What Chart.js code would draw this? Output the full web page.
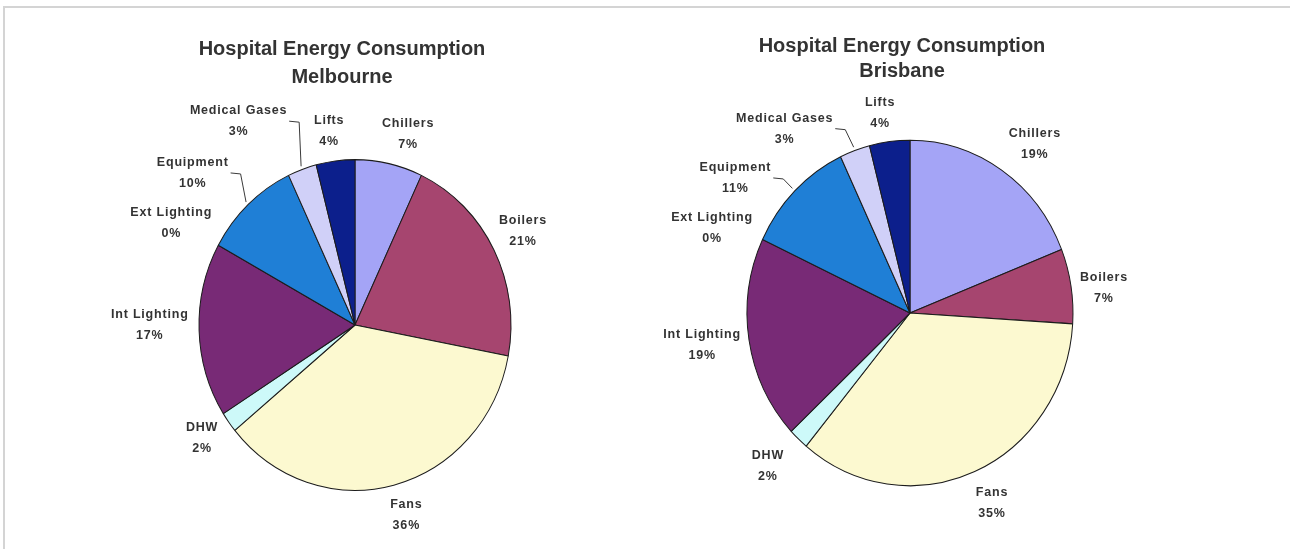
<!DOCTYPE html>
<html>
<head>
<meta charset="utf-8">
<script src="https://cdn.jsdelivr.net/npm/chart.js@4/dist/chart.umd.min.js"></script>
<style>
  html, body { margin: 0; padding: 0; background: #ffffff; }
  #page { position: relative; width: 1290px; height: 549px; overflow: hidden; }
  #frame { position: absolute; left: 3px; top: 6px; right: -6px; bottom: -6px;
           border-top: 2px solid #d4d4d4; border-left: 2px solid #d4d4d4; }
  canvas { position: absolute; top: 0; }
  #melbourne { left: 0; }
  #brisbane { left: 645px; }
</style>
</head>
<body>
<div id="page">
  <div id="frame"></div>
  <canvas id="melbourne" width="645" height="549" style="width:645px;height:549px"></canvas>
  <canvas id="brisbane" width="645" height="549" style="width:645px;height:549px"></canvas>
</div>
<script>
// End uses, clockwise from twelve o'clock
const categories = ['Chillers', 'Boilers', 'Fans', 'DHW', 'Int Lighting',
                    'Ext Lighting', 'Equipment', 'Medical Gases', 'Lifts'];

// Share of total hospital energy use, percent
const melbourneShare = [7, 21, 36, 2, 17, 0, 10, 3, 4];
const brisbaneShare  = [19, 7, 35, 2, 19, 0, 11, 3, 4];

const melbourneTitle = ['Hospital Energy Consumption', 'Melbourne'];
const brisbaneTitle  = ['Hospital Energy Consumption', 'Brisbane'];

const sliceColours = ['#a4a4f6', '#a6456f', '#fcf9d0', '#cdf9f9', '#782a76',
                      '#ff8080', '#1f7fd6', '#d0d0f8', '#0c1f8c'];

const Y_STRETCH = 1.06;      // pies are drawn slightly taller than wide
const LABEL_REACH = 1.22;    // label anchor, as a multiple of the radius
const LABEL_FONT = 'bold 12.5px "Liberation Sans", Arial, sans-serif';
const TITLE_FONT = 'bold 20px "Liberation Sans", Arial, sans-serif';
const TEXT_COLOUR = '#333333';

// Squash the pie into a slight oval around its own centre
const ovalPie = {
  id: 'ovalPie',
  beforeDatasetsDraw(chart) {
    const arc = chart.getDatasetMeta(0).data[0];
    const ctx = chart.ctx;
    ctx.save();
    ctx.translate(arc.x, arc.y);
    ctx.scale(1, Y_STRETCH);
    ctx.translate(-arc.x, -arc.y);
  },
  afterDatasetsDraw(chart) {
    chart.ctx.restore();
  }
};

// Two-line titles plus "name / value%" labels outside each slice
const sliceLabels = {
  id: 'sliceLabels',
  afterDraw(chart, args, opts) {
    const ctx = chart.ctx;
    const meta = chart.getDatasetMeta(0);
    const values = chart.data.datasets[0].data;
    ctx.save();
    ctx.fillStyle = TEXT_COLOUR;
    ctx.strokeStyle = '#3a3a3a';
    ctx.lineWidth = 1;
    ctx.textAlign = 'center';

    ctx.font = TITLE_FONT;
    ctx.textBaseline = 'alphabetic';
    opts.title.forEach((t, k) => ctx.fillText(t, opts.titleX, opts.titleY[k]));

    ctx.font = LABEL_FONT;
    ctx.letterSpacing = '0.8px';
    ctx.textBaseline = 'middle';
    meta.data.forEach((arc, i) => {
      const mid = (arc.startAngle + arc.endAngle) / 2;
      const r = arc.outerRadius;
      const [dx, dy] = opts.nudge[i];
      const x = arc.x + Math.cos(mid) * r * LABEL_REACH + dx;
      const y = arc.y + Math.sin(mid) * r * Y_STRETCH * LABEL_REACH + dy;
      const lines = [chart.data.labels[i], values[i] + '%'];
      ctx.fillText(lines[0], x, y - 10.5);
      ctx.fillText(lines[1], x, y + 10.5);
      if (opts.leader[i]) {
        const half = Math.max(...lines.map(s => ctx.measureText(s).width)) / 2;
        const ex = arc.x + Math.cos(mid) * r * 1.02;
        const ey = arc.y + Math.sin(mid) * r * Y_STRETCH * 1.02;
        ctx.beginPath();
        ctx.moveTo(x + half + 2, y);
        ctx.lineTo(x + half + 12, y + 1);
        ctx.lineTo(ex, ey);
        ctx.stroke();
      }
    });
    ctx.restore();
  }
};

function energyPie(canvasId, share, radius, padding, labelOpts) {
  return new Chart(document.getElementById(canvasId), {
    type: 'pie',
    data: {
      labels: categories,
      datasets: [{
        data: share,
        backgroundColor: sliceColours,
        borderColor: '#1c1c1c',
        borderWidth: 1,
        radius: radius,
        clip: false
      }]
    },
    options: {
      responsive: false,
      animation: false,
      devicePixelRatio: 1,
      layout: { padding: padding },
      plugins: {
        legend: { display: false },
        tooltip: { enabled: false },
        sliceLabels: labelOpts
      }
    },
    plugins: [ovalPie, sliceLabels]
  });
}

energyPie('melbourne', melbourneShare, 156,
  { left: 65, right: 0, top: 101, bottom: 0 },
  {
    title: melbourneTitle, titleX: 342, titleY: [55, 82.5],
    nudge: [[11.5, 6], [-1.6, -2], [4, -5], [1, -6], [-15, -6],
            [-17, -5], [-32, -5], [-52, -14], [-2, 6]],
    leader: [false, false, false, false, false, false, true, true, false]
  });

energyPie('brisbane', brisbaneShare, 163,
  { left: 0, right: 115, top: 77, bottom: 0 },
  {
    title: brisbaneTitle, titleX: 257, titleY: [51.5, 76.5],
    nudge: [[13, 5.5], [-2.5, 8.5], [3, -3], [-6, -1], [-11.5, -1],
            [-18, 5], [-34, 14], [-58, 14], [-5, 9]],
    leader: [false, false, false, false, false, false, true, true, false]
  });
</script>
</body>
</html>
